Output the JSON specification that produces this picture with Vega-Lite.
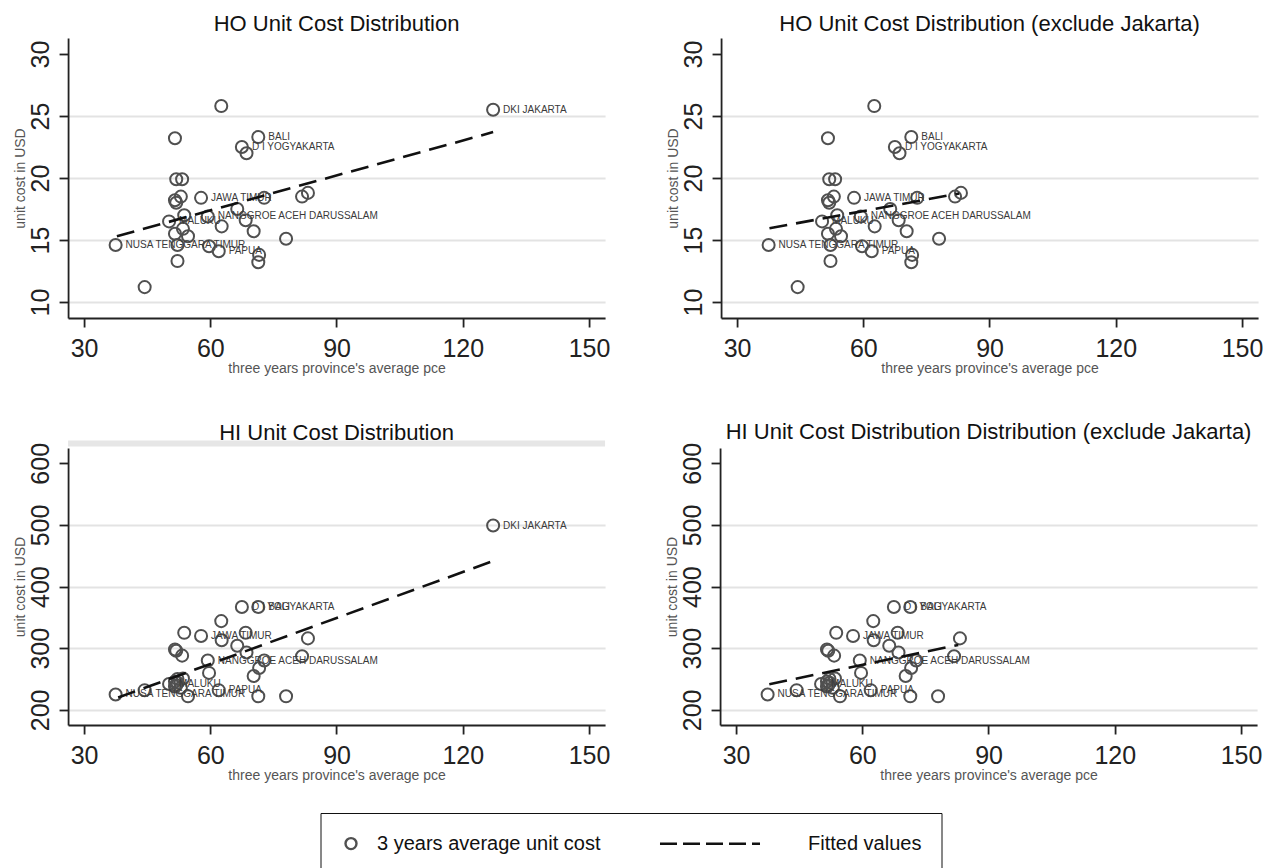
{
  "$schema": "https://vega.github.io/schema/vega-lite/v6.json",
  "background": "white",
  "padding": {"left": 13, "top": 13, "right": 0, "bottom": 0},
  "config": {
    "view": {"stroke": null},
    "font": "Liberation Sans",
    "axis": {
      "domainColor": "#222222", "domainWidth": 1.8,
      "tickColor": "#222222", "tickWidth": 1.8, "tickSize": 9,
      "labelFont": "Liberation Sans", "labelFontSize": 25, "labelColor": "#222222",
      "titleFont": "Liberation Sans", "titleFontSize": 14, "titleFontWeight": "normal", "titleColor": "#555555",
      "gridColor": "#e3e3e3", "gridWidth": 2
    },
    "axisX": {"grid": false, "labelPadding": 9, "titlePadding": 0},
    "axisY": {"grid": true, "labelAngle": 270, "labelAlign": "center", "labelBaseline": "bottom", "labelPadding": 6, "titlePadding": 1},
    "title": {"font": "Liberation Sans", "fontSize": 22, "fontWeight": "normal", "color": "#111111", "frame": "group", "anchor": "middle", "baseline": "alphabetic", "offset": 2}
  },
  "datasets": {
    "prov": [
      {"prov": "NUSA TENGGARA TIMUR", "pce": 37.5, "ho": 14.6, "hi": 225},
      {"prov": "", "pce": 44.4, "ho": 11.2, "hi": 232},
      {"prov": "MALUKU", "pce": 50.2, "ho": 16.5, "hi": 242},
      {"prov": "", "pce": 51.6, "ho": 23.2, "hi": 298},
      {"prov": "", "pce": 51.6, "ho": 18.2, "hi": 246},
      {"prov": "", "pce": 51.6, "ho": 15.5, "hi": 238},
      {"prov": "", "pce": 51.9, "ho": 19.9, "hi": 296},
      {"prov": "", "pce": 51.9, "ho": 18.0, "hi": 240},
      {"prov": "", "pce": 52.2, "ho": 14.6, "hi": 250},
      {"prov": "", "pce": 52.2, "ho": 13.3, "hi": 244},
      {"prov": "", "pce": 53.0, "ho": 18.5, "hi": 236},
      {"prov": "", "pce": 53.3, "ho": 19.9, "hi": 288},
      {"prov": "", "pce": 53.5, "ho": 15.9, "hi": 251},
      {"prov": "", "pce": 53.8, "ho": 17.0, "hi": 325},
      {"prov": "", "pce": 54.7, "ho": 15.3, "hi": 222},
      {"prov": "JAWA TIMUR", "pce": 57.8, "ho": 18.4, "hi": 320},
      {"prov": "NANGGROE ACEH DARUSSALAM", "pce": 59.4, "ho": 16.9, "hi": 280},
      {"prov": "", "pce": 59.7, "ho": 14.5, "hi": 260},
      {"prov": "PAPUA", "pce": 62.0, "ho": 14.1, "hi": 232},
      {"prov": "", "pce": 62.6, "ho": 25.8, "hi": 344},
      {"prov": "", "pce": 62.7, "ho": 16.1, "hi": 313},
      {"prov": "", "pce": 66.4, "ho": 17.5, "hi": 304},
      {"prov": "D I YOGYAKARTA", "pce": 67.5, "ho": 22.5, "hi": 367},
      {"prov": "", "pce": 68.4, "ho": 16.6, "hi": 325},
      {"prov": "", "pce": 68.6, "ho": 22.0, "hi": 293},
      {"prov": "", "pce": 70.3, "ho": 15.7, "hi": 255},
      {"prov": "BALI", "pce": 71.4, "ho": 23.3, "hi": 367},
      {"prov": "", "pce": 71.6, "ho": 13.8, "hi": 268},
      {"prov": "", "pce": 71.4, "ho": 13.2, "hi": 222},
      {"prov": "", "pce": 72.8, "ho": 18.4, "hi": 280},
      {"prov": "", "pce": 78.0, "ho": 15.1, "hi": 222},
      {"prov": "", "pce": 81.8, "ho": 18.5, "hi": 287},
      {"prov": "", "pce": 83.2, "ho": 18.8, "hi": 316},
      {"prov": "DKI JAKARTA", "pce": 127.2, "ho": 25.5, "hi": 499}
    ],
    "fit_ho_all": [{"pce": 37.8, "ho": 15.3}, {"pce": 127.2, "ho": 23.7}],
    "fit_ho_ex": [{"pce": 37.7, "ho": 15.95}, {"pce": 82.8, "ho": 18.75}],
    "fit_hi_all": [{"pce": 38.1, "hi": 220}, {"pce": 127.2, "hi": 441.6}],
    "fit_hi_ex": [{"pce": 37.9, "hi": 241.6}, {"pce": 82.8, "hi": 305.4}]
  },
  "vconcat": [
    {
      "vconcat": [
        {
          "hconcat": [
            {
              "width": 537, "height": 280,
              "title": {"text": "HO Unit Cost Distribution"},
              "encoding": {
                "x": {"field": "pce", "type": "quantitative", "scale": {"domain": [26.2, 153.8], "nice": false, "zero": false}, "axis": {"title": "three years province's average pce", "values": [30, 60, 90, 120, 150]}},
                "y": {"field": "ho", "type": "quantitative", "scale": {"domain": [8.71, 31.29], "nice": false, "zero": false}, "axis": {"title": "unit cost in USD", "values": [10, 15, 20, 25, 30], "gridColor": {"condition": {"test": "datum.value === 30", "value": "transparent"}, "value": "#e3e3e3"}}}
              },
              "layer": [
                {"data": {"name": "prov"}, "mark": {"type": "point", "shape": "circle", "filled": false, "size": 145, "strokeWidth": 2, "color": "#505050", "opacity": 1}},
                {"data": {"name": "prov"}, "transform": [{"filter": "datum.prov !== ''"}], "mark": {"type": "text", "align": "left", "baseline": "middle", "dx": 10, "fontSize": 10, "font": "Liberation Sans", "color": "#3a3a3a"}, "encoding": {"text": {"field": "prov"}}},
                {"data": {"name": "fit_ho_all"}, "mark": {"type": "line", "color": "#111111", "strokeWidth": 2.6, "strokeDash": [18, 9]}}
              ]
            },
            {
              "width": 537, "height": 280,
              "title": {"text": "HO Unit Cost Distribution (exclude Jakarta)"},
              "encoding": {
                "x": {"field": "pce", "type": "quantitative", "scale": {"domain": [26.2, 153.8], "nice": false, "zero": false}, "axis": {"title": "three years province's average pce", "values": [30, 60, 90, 120, 150]}},
                "y": {"field": "ho", "type": "quantitative", "scale": {"domain": [8.71, 31.29], "nice": false, "zero": false}, "axis": {"title": "unit cost in USD", "values": [10, 15, 20, 25, 30], "gridColor": {"condition": {"test": "datum.value === 30", "value": "transparent"}, "value": "#e3e3e3"}}}
              },
              "layer": [
                {"data": {"name": "prov"}, "transform": [{"filter": "datum.prov !== 'DKI JAKARTA'"}], "mark": {"type": "point", "shape": "circle", "filled": false, "size": 145, "strokeWidth": 2, "color": "#505050", "opacity": 1}},
                {"data": {"name": "prov"}, "transform": [{"filter": "datum.prov !== '' && datum.prov !== 'DKI JAKARTA'"}], "mark": {"type": "text", "align": "left", "baseline": "middle", "dx": 10, "fontSize": 10, "font": "Liberation Sans", "color": "#3a3a3a"}, "encoding": {"text": {"field": "prov"}}},
                {"data": {"name": "fit_ho_ex"}, "mark": {"type": "line", "color": "#111111", "strokeWidth": 2.6, "strokeDash": [18, 9]}}
              ]
            }
          ],
          "spacing": 55,
          "resolve": {"scale": {"x": "independent", "y": "independent"}}
        },
        {
          "hconcat": [
            {
              "width": 537, "height": 277,
              "title": {"text": "HI Unit Cost Distribution", "offset": -4},
              "layer": [
                {
                  "data": {"values": [{}]},
                  "mark": {"type": "rule", "color": "#e6e6e6", "strokeWidth": 6},
                  "encoding": {"y": {"datum": 632, "type": "quantitative", "scale": {"domain": [175.5, 624.8], "nice": false, "zero": false}, "axis": {"title": "unit cost in USD", "values": [200, 300, 400, 500, 600], "gridColor": {"condition": {"test": "datum.value === 600", "value": "transparent"}, "value": "#e3e3e3"}}}}
                },
                {
                  "encoding": {
                    "x": {"field": "pce", "type": "quantitative", "scale": {"domain": [26.2, 153.8], "nice": false, "zero": false}, "axis": {"title": "three years province's average pce", "values": [30, 60, 90, 120, 150]}},
                    "y": {"field": "hi", "type": "quantitative", "scale": {"domain": [175.5, 624.8], "nice": false, "zero": false}, "axis": {"title": "unit cost in USD", "values": [200, 300, 400, 500, 600], "gridColor": {"condition": {"test": "datum.value === 600", "value": "transparent"}, "value": "#e3e3e3"}}}
                  },
                  "layer": [
                    {"data": {"name": "prov"}, "mark": {"type": "point", "shape": "circle", "filled": false, "size": 145, "strokeWidth": 2, "color": "#505050", "opacity": 1}},
                    {"data": {"name": "prov"}, "transform": [{"filter": "datum.prov !== ''"}], "mark": {"type": "text", "align": "left", "baseline": "middle", "dx": 10, "fontSize": 10, "font": "Liberation Sans", "color": "#3a3a3a"}, "encoding": {"text": {"field": "prov"}}},
                    {"data": {"name": "fit_hi_all"}, "mark": {"type": "line", "color": "#111111", "strokeWidth": 2.6, "strokeDash": [18, 9]}}
                  ]
                }
              ]
            },
            {
              "width": 537, "height": 277,
              "title": {"text": "HI Unit Cost Distribution Distribution (exclude Jakarta)", "offset": -2},
              "encoding": {
                "x": {"field": "pce", "type": "quantitative", "scale": {"domain": [26.2, 153.8], "nice": false, "zero": false}, "axis": {"title": "three years province's average pce", "values": [30, 60, 90, 120, 150]}},
                "y": {"field": "hi", "type": "quantitative", "scale": {"domain": [175.5, 624.8], "nice": false, "zero": false}, "axis": {"title": "unit cost in USD", "values": [200, 300, 400, 500, 600], "gridColor": {"condition": {"test": "datum.value === 600", "value": "transparent"}, "value": "#e3e3e3"}}}
              },
              "layer": [
                {"data": {"name": "prov"}, "transform": [{"filter": "datum.prov !== 'DKI JAKARTA'"}], "mark": {"type": "point", "shape": "circle", "filled": false, "size": 145, "strokeWidth": 2, "color": "#505050", "opacity": 1}},
                {"data": {"name": "prov"}, "transform": [{"filter": "datum.prov !== '' && datum.prov !== 'DKI JAKARTA'"}], "mark": {"type": "text", "align": "left", "baseline": "middle", "dx": 10, "fontSize": 10, "font": "Liberation Sans", "color": "#3a3a3a"}, "encoding": {"text": {"field": "prov"}}},
                {"data": {"name": "fit_hi_ex"}, "mark": {"type": "line", "color": "#111111", "strokeWidth": 2.6, "strokeDash": [18, 9]}}
              ]
            }
          ],
          "spacing": 55,
          "resolve": {"scale": {"x": "independent", "y": "independent"}}
        }
      ],
      "spacing": 46,
      "resolve": {"scale": {"x": "independent", "y": "independent"}}
    },
    {
      "width": 690, "height": 54,
      "view": {"fill": "white", "stroke": null},
      "data": {"values": []},
      "mark": {"type": "point", "filled": false, "strokeWidth": 2.4, "size": 121},
      "encoding": {
        "shape": {
          "field": "series", "type": "nominal",
          "scale": {"domain": ["3 years average unit cost", "Fitted values"], "range": ["M0.611,0A0.611,0.611 0 1,1 -0.611,0A0.611,0.611 0 1,1 0.611,0Z", "M-13.556,0H-11.667M-11,0H-9.111M-8.444,0H-6.556M-5.889,0H-4M-3.333,0H-2.444"]},
          "legend": {
            "title": null, "orient": "top-left", "offset": 0, "direction": "horizontal", "padding": 20,
            "strokeColor": "#111111",
            "labelFont": "Liberation Sans", "labelFontSize": 20, "labelColor": "#111111", "labelOffset": 15.5, "labelLimit": 0,
            "columnPadding": 54,
            "symbolSize": 324, "symbolStrokeWidth": 2.4, "symbolFillColor": "transparent", "symbolOpacity": 1
          }
        },
        "color": {
          "field": "series", "type": "nominal",
          "scale": {"domain": ["3 years average unit cost", "Fitted values"], "range": ["#505050", "#111111"]},
          "legend": {
            "title": null, "orient": "top-left", "offset": 0, "direction": "horizontal", "padding": 20,
            "strokeColor": "#111111",
            "labelFont": "Liberation Sans", "labelFontSize": 20, "labelColor": "#111111", "labelOffset": 15.5, "labelLimit": 0,
            "columnPadding": 54,
            "symbolSize": 324, "symbolStrokeWidth": 2.4, "symbolFillColor": "transparent", "symbolOpacity": 1
          }
        }
      }
    }
  ],
  "spacing": 30,
  "center": true,
  "resolve": {
    "scale": {"x": "independent", "y": "independent", "shape": "independent", "color": "independent"},
    "legend": {"shape": "independent", "color": "independent"}
  }
}
